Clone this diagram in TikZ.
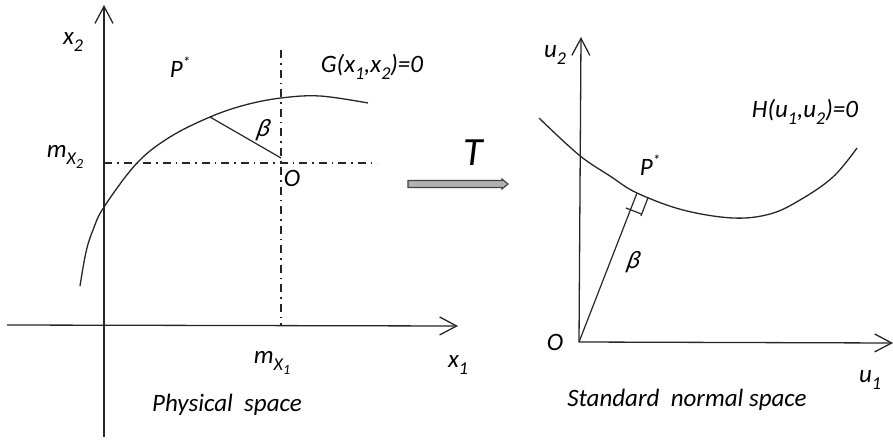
\documentclass[tikz,border=0pt]{standalone}
\usepackage{fontspec}
\setmainfont{Carlito}
\newfontfamily\grkslant{Carlito}[FakeSlant=0.22]
\usetikzlibrary{arrows.meta,calc}
\newcommand{\sbs}[1]{\raisebox{-0.28em}{\fontsize{18}{20}\selectfont #1}}
\newcommand{\ssbs}[1]{\raisebox{-0.22em}{\fontsize{14}{16}\selectfont #1}}
\newcommand{\sps}[1]{\raisebox{0.38em}{\fontsize{15}{16}\selectfont #1}}
\newcommand{\bet}{{\grkslant β}}
\tikzset{
  lab/.style={font=\fontsize{25}{30}\selectfont\itshape, inner sep=0pt, text=black},
  axis/.style={line width=1.3pt, draw=black!85, -{Straight Barb[length=17pt,width=18pt,line width=1.3pt]}},
  curve/.style={line width=1.3pt, draw=black!85},
  dd/.style={line width=1.2pt, draw=black!85, dash pattern=on 8pt off 5pt on 1.5pt off 5pt},
  thin line/.style={line width=1.2pt, draw=black!85},
}
\begin{document}
\begin{tikzpicture}[x=1pt,y=-1pt]
\useasboundingbox (0,0) rectangle (893,444);
% ---------- left panel ----------
\coordinate (x1s) at (7,325);
\coordinate (x1e) at (458,326);
\coordinate (x2s) at (104,437);
\coordinate (x2e) at (104,5);
\draw[axis] (x1s) -- (x1e);
\draw[axis] (x2s) -- (x2e);
\coordinate (vt) at (281,50);
\coordinate (vb) at (281,325);
\coordinate (hl) at (104,163);
\coordinate (hr) at (377,163);
\draw[dd] (vt) -- (vb);
\draw[dd] (hl) -- (hr);
\draw[curve] plot[smooth, tension=0.6] coordinates {(80,286) (86,252) (93,230) (104,207) (137,163) (170,137) (210,117) (245,105) (281,98) (320,96) (368,103)};
\coordinate (pf) at (210,117);
\coordinate (po) at (281,158);
\draw[thin line] (pf) -- (po);
\node[lab] (lx2) at (73,42) {x\sbs{2}};
\node[lab] (lp1) at (180,67) {P\sps{*}};
\node[lab] (lg) at (372,67) {G(x\sbs{1},x\sbs{2})=0};
\node[lab] (lb1) at (262,130) {\bet};
\node[lab] (lm2) at (65,157) {m\sbs{X\ssbs{2}}};
\node[lab] (lo1) at (292,178) {O};
\node[lab] (lm1) at (272,363) {m\sbs{X\ssbs{1}}};
\node[lab] (lx1) at (458,365) {x\sbs{1}};
\node[lab] (lps) at (227,405) {Physical\ \ space};
% ---------- transform arrow ----------
\coordinate (ta) at (408,184);
\draw[line width=1.1pt, draw=black!75, fill=black!30]
  ($(ta)+(0,-3.5)$) -- ++(94,0) -- ++(0,-1.5) -- ($(ta)+(100,0)$) -- ($(ta)+(94,5)$) -- ++(0,-1.5) -- ($(ta)+(0,3.5)$) -- cycle;
\node[font=\fontsize{40}{44}\selectfont\itshape, inner sep=0pt] (lt) at (473,153) {T};
% ---------- right panel ----------
\coordinate (o2) at (579,342);
\coordinate (u1e) at (893,343);
\coordinate (u2e) at (581,37);
\draw[axis] (o2) -- (u1e);
\draw[axis] (o2) -- (u2e);
\draw[curve] plot[smooth, tension=0.6] coordinates {(539,118) (579,155) (610,176) (637,193) (683,210) (733,218) (770,214) (800,200) (833,177) (857,148)};
\coordinate (qf) at (637,193);
\draw[thin line] (o2) -- (qf);
\coordinate (qa) at ($(qf)!18pt!(o2)$);
\coordinate (qb) at ($(qa)!-5pt!90:(o2)$);
\coordinate (qc) at ($(qa)!12pt!90:(o2)$);
\coordinate (qd) at ($(qc)+(6.5,-16.8)$);
\draw[thin line] (qb) -- (qc);
\draw[thin line] ($(qc)+(-0.7,1.8)$) -- (qd);
\node[lab] (lu2) at (555,55) {u\sbs{2}};
\node[lab] (lh) at (805,112) {H(u\sbs{1},u\sbs{2})=0};
\node[lab] (lp2) at (650,165) {P\sps{*}};
\node[lab] (lb2) at (632,262) {\bet};
\node[lab] (lo2) at (555,342) {O};
\node[lab] (lu1) at (870,380) {u\sbs{1}};
\node[lab] (lsn) at (687,400) {Standard\ \ normal\ space};
\end{tikzpicture}
\end{document}
